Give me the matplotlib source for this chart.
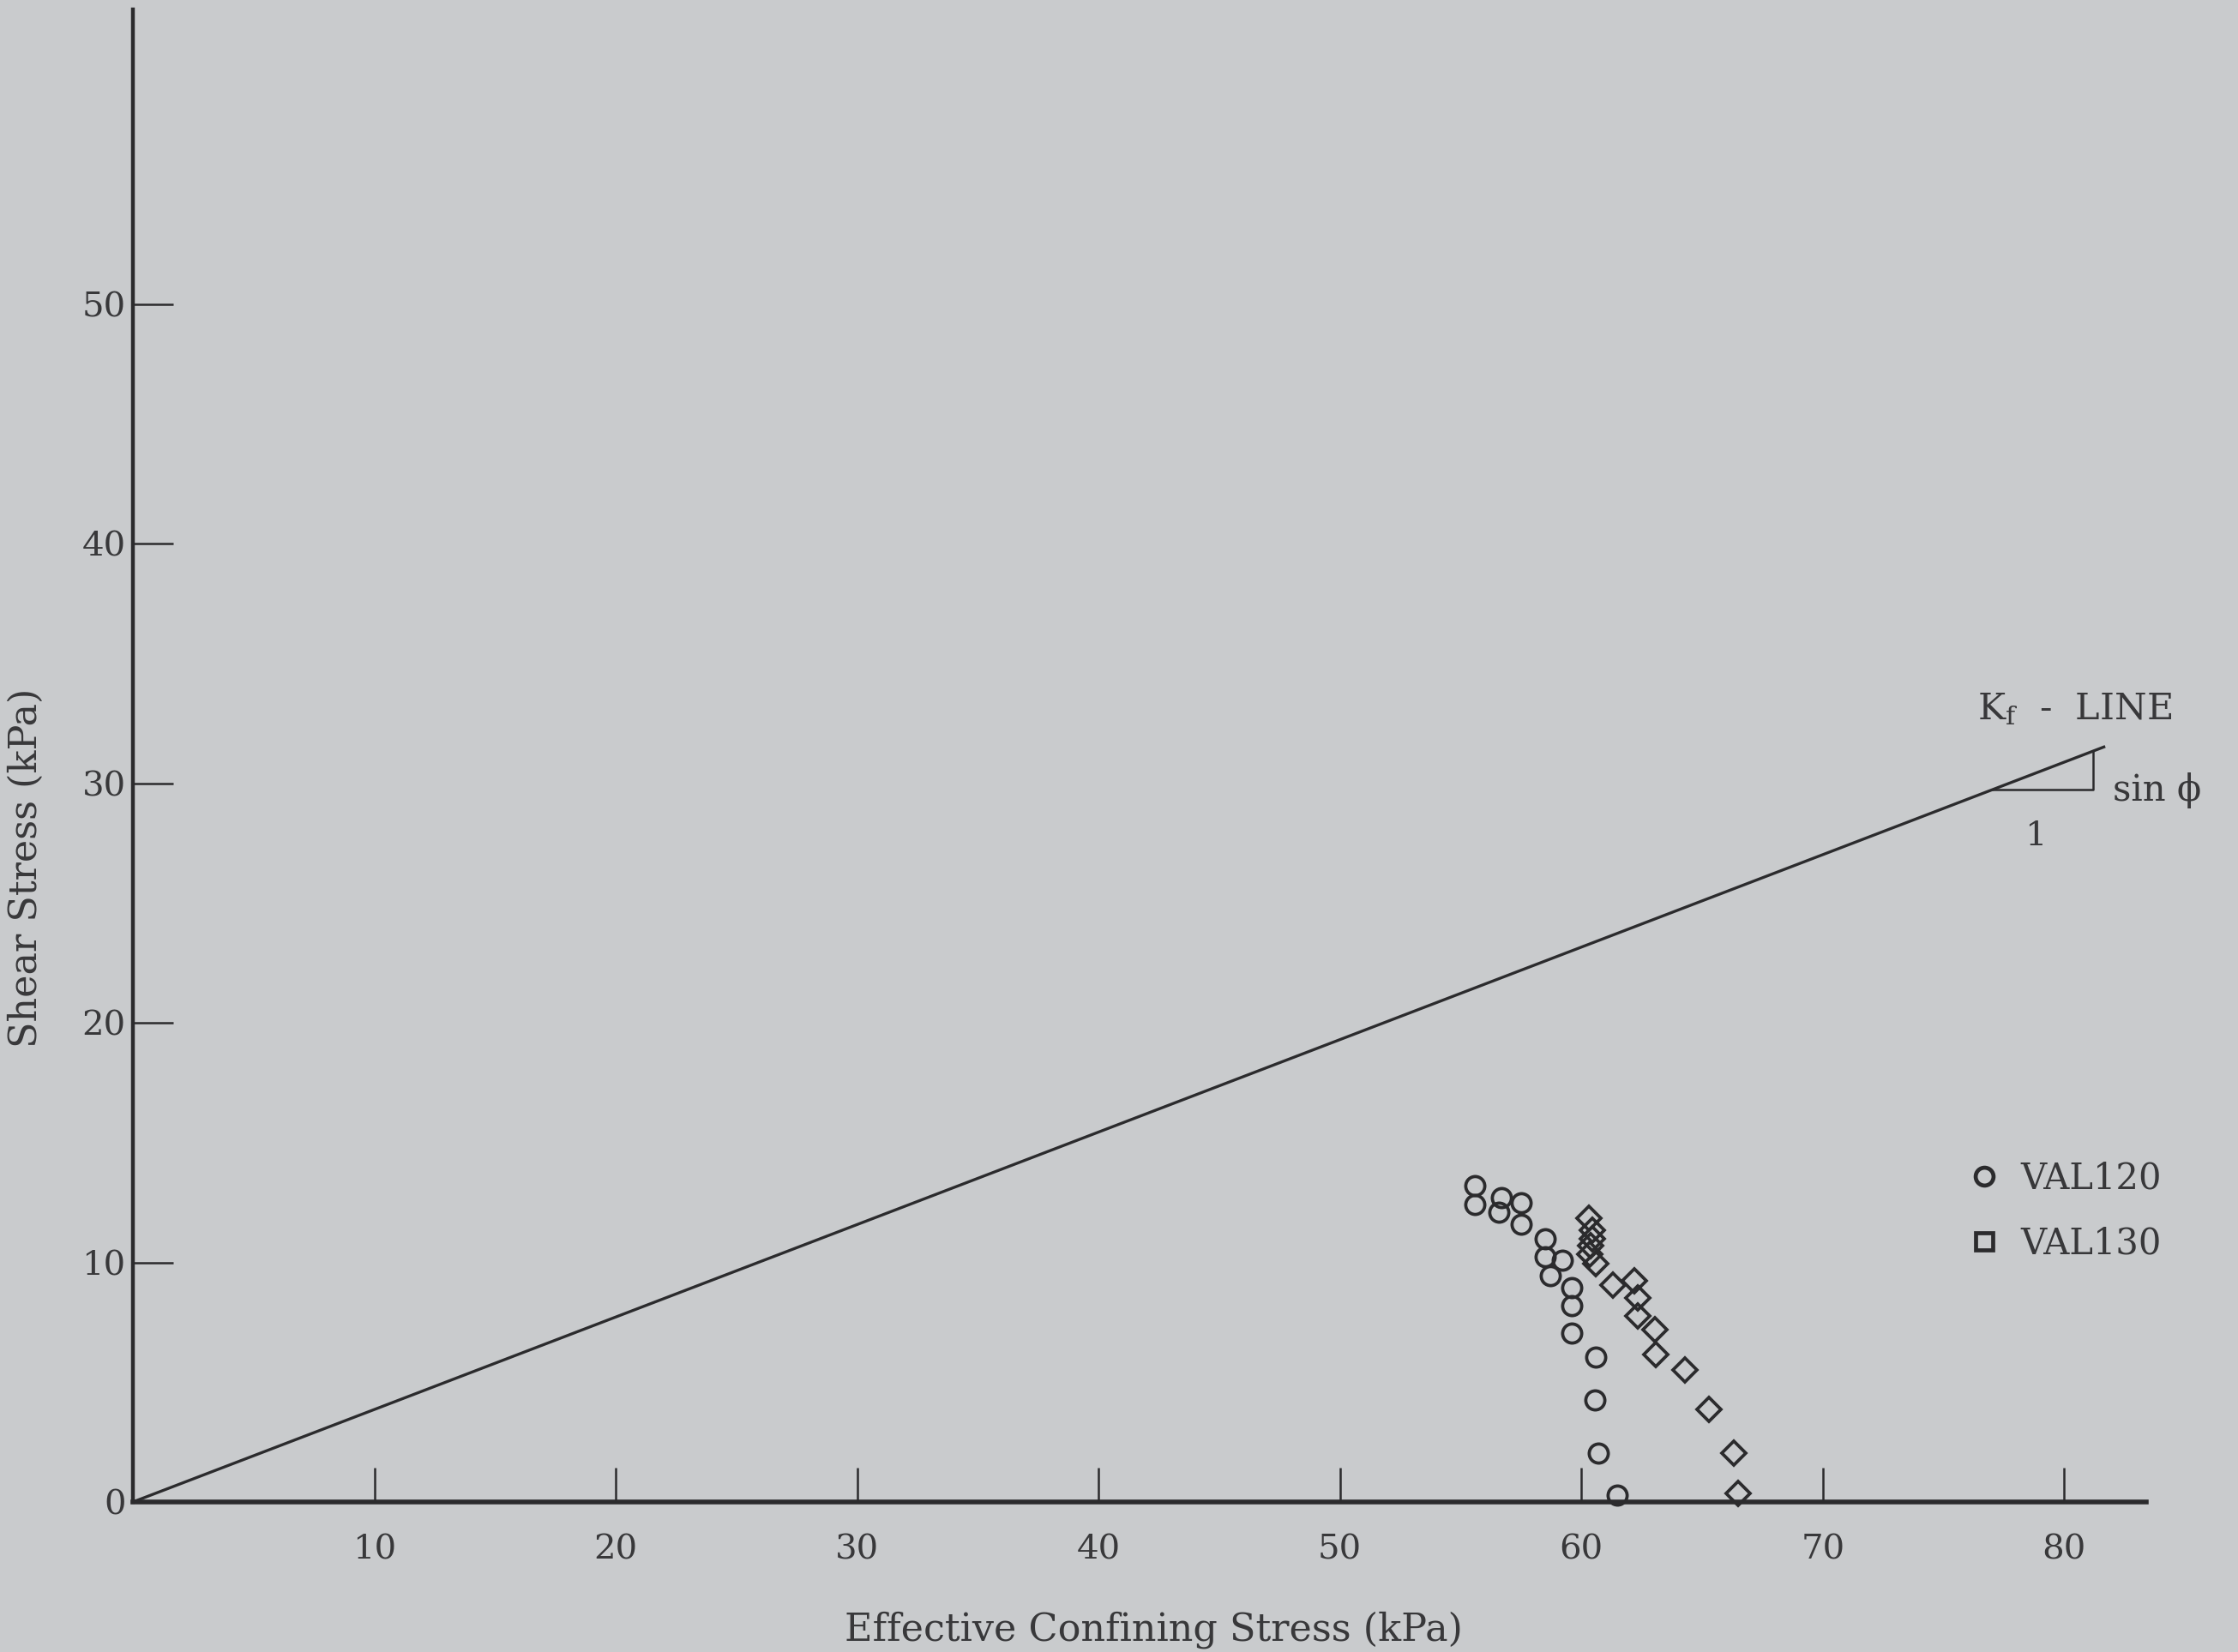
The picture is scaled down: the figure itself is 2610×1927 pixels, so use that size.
import matplotlib
matplotlib.use("Agg")
import matplotlib.pyplot as plt
from matplotlib.lines import Line2D
import numpy as np

# Stress-path data (kPa): effective confining stress vs. shear stress
val120_p = [55.6, 55.6, 56.7, 56.6, 57.5, 57.5, 58.5, 58.5, 59.2, 58.7,
            59.6, 59.6, 59.6, 60.6, 60.55, 60.7, 61.5]
val120_q = [13.2, 12.4, 12.7, 12.1, 12.5, 11.6, 11.0, 10.25, 10.1, 9.45,
            8.95, 8.2, 7.05, 6.05, 4.25, 2.05, 0.3]

val130_p = [60.3, 60.45, 60.45, 60.4, 60.35, 60.6, 61.3, 62.2, 62.35, 62.35,
            63.05, 63.1, 64.3, 65.3, 66.3, 66.5]
val130_q = [11.85, 11.35, 11.0, 10.7, 10.35, 9.95, 9.05, 9.25, 8.5, 7.75,
            7.2, 6.15, 5.5, 3.85, 2.05, 0.35]

# Failure envelope: slope = sin(phi)
kf_slope = 0.386
kf_p_end = 81.7

x_ticks = [10, 20, 30, 40, 50, 60, 70, 80]
y_ticks = [0, 10, 20, 30, 40, 50]

series_labels = ["VAL120", "VAL130"]

paper = "#c9cbcd"
ink = "#2b2b2d"
text_ink = "#38383a"
serif = ["DejaVu Serif", "Liberation Serif"]

plt.rcParams["font.family"] = serif
plt.rcParams["mathtext.fontset"] = "custom"
plt.rcParams["mathtext.rm"] = "DejaVu Serif"

fig = plt.figure(figsize=(26.1, 19.27), dpi=100, facecolor=paper)
ax = fig.add_axes([155 / 2610, (1927 - 1752) / 1927, 2348 / 2610, 1741 / 1927])
ax.set_facecolor(paper)
ax.set_xlim(0, 83.4)
ax.set_ylim(0, 62.3)

for side in ("top", "right"):
    ax.spines[side].set_visible(False)
ax.spines["left"].set_linewidth(3.2)
ax.spines["bottom"].set_linewidth(4.0)
ax.spines["left"].set_color(ink)
ax.spines["bottom"].set_color(ink)

ax.set_xticks(x_ticks)
ax.set_yticks(y_ticks)
ax.set_xticklabels([str(v) for v in x_ticks])
ax.set_yticklabels([str(v) for v in y_ticks])
ax.tick_params(axis="x", direction="in", length=29, width=1.8, color=ink,
               pad=27, labelsize=29, labelcolor=text_ink)
ax.tick_params(axis="y", direction="in", length=34, width=1.8, color=ink,
               pad=6, labelsize=29, labelcolor=text_ink)

# K_f line and slope triangle
kf_x = np.array([0.0, kf_p_end])
ax.plot(kf_x, kf_slope * kf_x, color=ink, lw=2.4, solid_capstyle="butt",
        clip_on=False, zorder=3)
tri_x0, tri_x1 = 77.0, 81.2
ax.plot([tri_x0, tri_x1, tri_x1], [kf_slope * tri_x0, kf_slope * tri_x0, kf_slope * tri_x1],
        color=ink, lw=1.8, zorder=3)
ax.text(76.4, 33.1, r"$\mathregular{K_f}$  -  LINE", fontsize=31, color=text_ink,
        ha="left", va="center")
ax.text(82.0, 29.7, "sin \u03d5", fontsize=30, color=text_ink, ha="left", va="center")
ax.text(78.8, 27.8, "1", fontsize=29, color=text_ink, ha="center", va="center")

# Test data
ax.plot(val120_p, val120_q, ls="none", marker="o", ms=16, mfc="none", mec=ink,
        mew=2.7, zorder=4, clip_on=False)
ax.plot(val130_p, val130_q, ls="none", marker="D", ms=14.5, mfc="none", mec=ink,
        mew=2.7, zorder=4, clip_on=False)

handles = [
    Line2D([], [], ls="none", marker="o", ms=15, mfc="none", mec=ink, mew=3.4),
    Line2D([], [], ls="none", marker="s", ms=14, mfc="none", mec=ink, mew=3.4),
]
ax.legend(handles, series_labels, loc="center left", bbox_to_anchor=(75.96, 12.15),
          bbox_transform=ax.transData, frameon=False, fontsize=30,
          labelcolor=text_ink, handlelength=1.0, handletextpad=0.5,
          labelspacing=0.8, borderpad=0, borderaxespad=0)

ax.set_xlabel("Effective Confining Stress (kPa)", fontsize=32, color=text_ink)
ax.set_ylabel("Shear Stress (kPa)", fontsize=32, color=text_ink)
ax.xaxis.set_label_coords(0.507, -0.073)
ax.yaxis.set_label_coords(-0.044, 0.425)

fig.savefig("out.png", dpi=100, facecolor=paper)
